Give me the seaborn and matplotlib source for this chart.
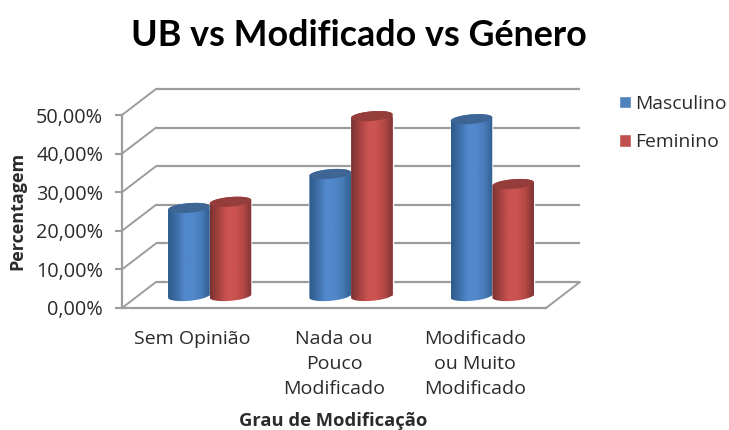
import numpy as np
import pandas as pd
import matplotlib
matplotlib.use("Agg")
import matplotlib.pyplot as plt
import seaborn as sns
from matplotlib.colors import LinearSegmentedColormap
from matplotlib.patches import PathPatch
from matplotlib.path import Path
from matplotlib.transforms import Affine2D

categories = ["Sem Opinião", "Nada ou\nPouco\nModificado", "Modificado\nou Muito\nModificado"]
masculino = [22.8, 31.6, 45.8]
feminino = [24.4, 46.6, 29.0]
series_names = ["Masculino", "Feminino"]
y_ticks = [0, 10, 20, 30, 40, 50]
y_tick_labels = ["0,00%", "10,00%", "20,00%", "30,00%", "40,00%", "50,00%"]

sns.set_theme(style="white")
plt.rcParams["font.family"] = ["Open Sans", "DejaVu Sans"]

W, H = 729, 430
GRID = "#9c9c9c"
TXT = "#2b2b2b"
fig = plt.figure(figsize=(W / 100, H / 100), dpi=100, facecolor="white")

# front plane of the pseudo-3D box
L, R, B, T = 122, 546, 308, 115
DEPTH_X, DEPTH_Y = 34, 26
front = fig.add_axes([L / W, (H - B) / H, (R - L) / W, (B - T) / H], zorder=0)
mid = fig.add_axes([(L + DEPTH_X / 2) / W, (H - B + 12) / H, (R - L) / W, (B - T) / H], zorder=1)

front.set_xlim(-0.5, 2.5)
front.set_ylim(0, 50)
front.set_xticks(range(len(categories)))
front.set_xticklabels(categories, fontsize=14, color=TXT, linespacing=1.48)
front.set_yticks(y_ticks)
front.set_yticklabels(y_tick_labels, fontsize=14.3, color=TXT)
front.tick_params(axis="y", length=5, width=1.5, color=GRID, pad=8.5, left=True)
front.tick_params(axis="x", length=0, pad=16)
for s in ("top", "right"):
    front.spines[s].set_visible(False)
for s in ("left", "bottom"):
    front.spines[s].set_color(GRID)
    front.spines[s].set_linewidth(1.6)
front.set_xlabel("Grau de Modificação", fontsize=13.2, fontweight="bold", color=TXT, labelpad=0)
front.set_ylabel("Percentagem", fontsize=13, fontweight="bold", color=TXT)
front.xaxis.set_label_coords((333 - L) / (R - L), -(412 - B) / (B - T))
front.yaxis.set_label_coords((26 - L) / (R - L), (B - 211) / (B - T))

back_tf = front.transData + Affine2D().translate(DEPTH_X, DEPTH_Y)
for v in y_ticks:
    # back wall gridline and its side-wall connection
    front.plot([-0.5, 2.5], [v, v], transform=back_tf, color=GRID, lw=1.6, clip_on=False,
               solid_capstyle="butt")
    x0, y0 = front.transData.transform((-0.5, v))
    front.plot([x0, x0 + DEPTH_X], [y0, y0 + DEPTH_Y], transform=Affine2D(), color=GRID,
               lw=1.4, clip_on=False)
x1, y1 = front.transData.transform((2.5, 0))
front.plot([x1, x1 + DEPTH_X], [y1, y1 + DEPTH_Y], transform=Affine2D(), color=GRID,
           lw=1.4, clip_on=False)

# bars
df = pd.DataFrame({
    "cat": categories * 2,
    "value": masculino + feminino,
    "serie": [series_names[0]] * 3 + [series_names[1]] * 3,
})
palette = {"Masculino": "#4f81bd", "Feminino": "#c0504d"}
sns.barplot(data=df, x="cat", y="value", hue="serie", order=categories, hue_order=series_names,
            palette=palette, width=0.59, gap=0, saturation=1, ax=mid, legend=True)
mid.set_xlim(-0.5, 2.5)
mid.set_ylim(0, 50)
handles, labels = mid.get_legend_handles_labels()
mid.get_legend().remove()

cmaps = {
    "Masculino": LinearSegmentedColormap.from_list("b", ["#2e5a8c", "#3d6ea6", "#5288cc", "#5288cc", "#487bb8", "#32608f"]),
    "Feminino": LinearSegmentedColormap.from_list("r", ["#7a3230", "#a54341", "#cb5351", "#cb5351", "#b34845", "#7f3432"]),
}
top_colors = {"Masculino": "#3d6695", "Feminino": "#943d3b"}
RY, TILT = 4.8, np.deg2rad(5)


def ell(cx, cy, rx, t):
    ex, ey = rx * np.cos(t), RY * np.sin(t)
    return np.c_[cx + ex * np.cos(TILT) - ey * np.sin(TILT), cy + ex * np.sin(TILT) + ey * np.cos(TILT)]


grad = np.linspace(0, 1, 128)[None, :]
bars = [(name, b) for name, cont in zip(series_names, mid.containers) for b in cont]
z = 3
for name, b in sorted(bars, key=lambda nb: 0 if nb[0] == "Masculino" else 1):
    x, w, h = b.get_x(), b.get_width(), b.get_height()
    (px0, py0), (px1, py1) = mid.transData.transform([(x, 0), (x + w, h)])
    cx, rx = (px0 + px1) / 2, (px1 - px0) / 2
    low = ell(cx, py0, rx, np.linspace(np.pi, 2 * np.pi, 40))
    up = ell(cx, py1, rx, np.linspace(0, np.pi, 40))
    body = PathPatch(Path(np.r_[low, up, low[:1]], closed=False), transform=Affine2D(), fc="none", ec="none")
    mid.add_patch(body)
    body.set_clip_on(False)
    im = mid.imshow(grad, cmap=cmaps[name], extent=[x, x + w, -3, h + 3], aspect="auto", zorder=z,
                    interpolation="bilinear")
    im.set_clip_box(fig.bbox)
    im.set_clip_path(body)
    cap = PathPatch(Path(ell(cx, py1, rx, np.linspace(0, 2 * np.pi, 80))), transform=Affine2D(),
                    fc=top_colors[name], ec="none", zorder=z + 0.5, clip_on=False)
    mid.add_patch(cap)
    z += 1
mid.set_xlim(-0.5, 2.5)
mid.set_ylim(0, 50)
mid.axis("off")

fig.suptitle("UB vs Modificado vs Género", x=359 / W, y=1 - 35 / H, va="center", ha="center",
             fontsize=25.8, fontweight="bold", color="black", family=["Lato", "DejaVu Sans"])
fig.legend(handles, labels, loc="upper left", bbox_to_anchor=(613 / W, 1 - 89 / H), frameon=False,
           fontsize=13.9, labelcolor=TXT, handlelength=0.65, handleheight=0.65, handletextpad=0.2,
           labelspacing=1.05, borderpad=0, borderaxespad=0.3)

fig.savefig("out.png", dpi=100, facecolor="white")
